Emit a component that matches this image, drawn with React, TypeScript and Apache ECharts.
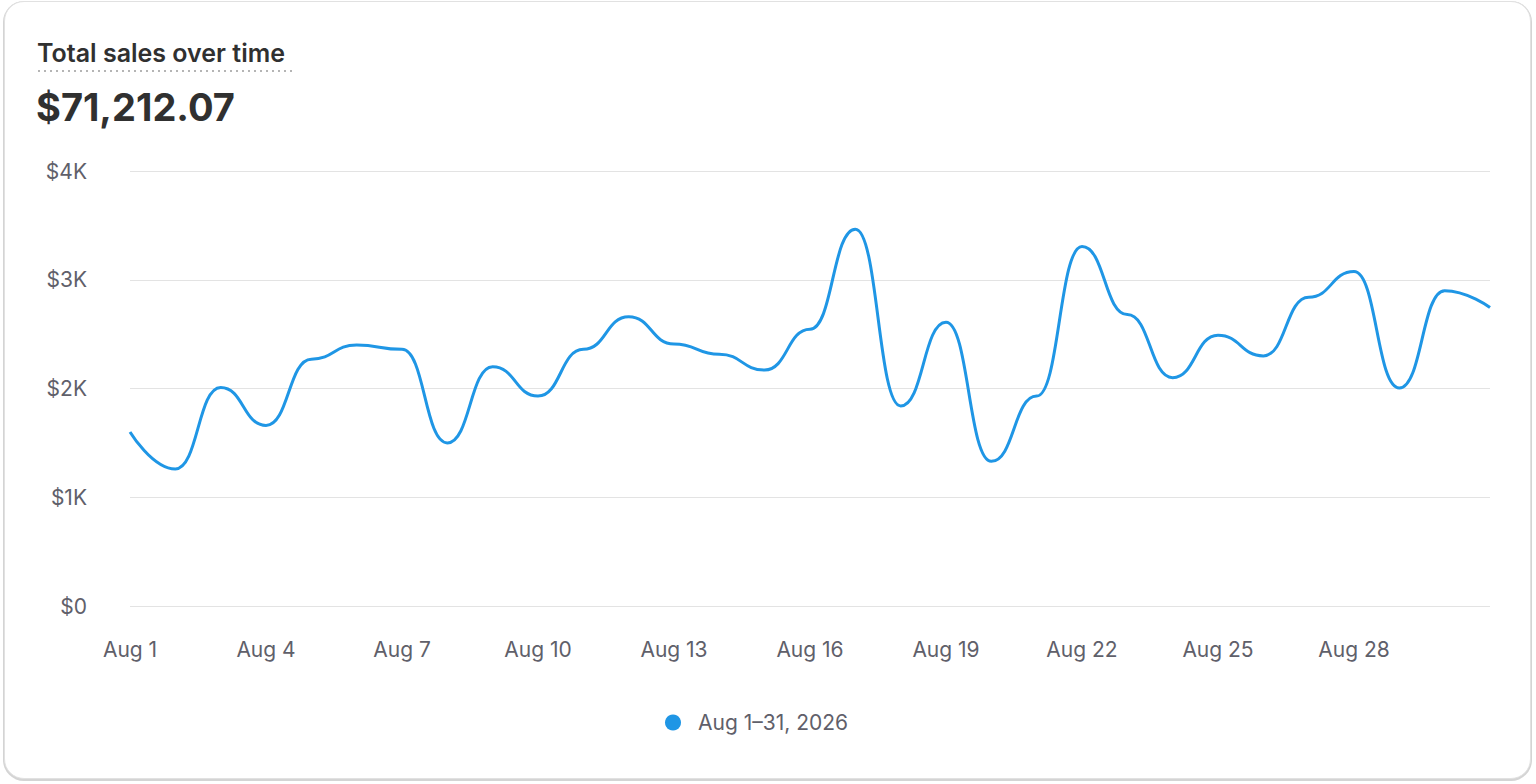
import React, { useEffect, useRef } from "react";
import * as echarts from "echarts";

const days = [
  "Aug 1", "Aug 2", "Aug 3", "Aug 4", "Aug 5", "Aug 6", "Aug 7", "Aug 8",
  "Aug 9", "Aug 10", "Aug 11", "Aug 12", "Aug 13", "Aug 14", "Aug 15", "Aug 16",
  "Aug 17", "Aug 18", "Aug 19", "Aug 20", "Aug 21", "Aug 22", "Aug 23", "Aug 24",
  "Aug 25", "Aug 26", "Aug 27", "Aug 28", "Aug 29", "Aug 30", "Aug 31",
];

const sales = [
  1600, 1260, 2010, 1660, 2270, 2400, 2360, 1500, 2200, 1930, 2360, 2660,
  2410, 2315, 2170, 2545, 3465, 1840, 2610, 1330, 1930, 3305, 2680, 2100,
  2490, 2300, 2840, 3075, 2005, 2900, 2745,
];

const seriesName = "Aug 1–31, 2026";
const title = "Total sales over time";
const total = "$71,212.07";

const FONT = "Inter, 'Noto Sans', sans-serif";
const LABEL = "#60606a";

const App = () => {
  const chartRef = useRef<HTMLDivElement>(null);

  useEffect(() => {
    if (!chartRef.current) return;
    const chart = echarts.init(chartRef.current, null, { renderer: "svg" });

    const option: echarts.EChartsOption = {
      animation: false,
      textStyle: { fontFamily: FONT },
      grid: { left: 130, right: 46, top: 171, bottom: 178 },
      graphic: [
        {
          type: "text",
          x: 37,
          y: 53,
          style: {
            text: title,
            font: `600 25px ${FONT}`,
            fill: "#303030",
            verticalAlign: "middle",
          },
        },
        {
          type: "line",
          shape: { x1: 38, y1: 71, x2: 294, y2: 71 },
          style: { stroke: "#b5b5b5", lineWidth: 2, lineDash: [2, 4] },
        },
        {
          type: "text",
          x: 36,
          y: 107,
          style: {
            text: total,
            font: `700 38px ${FONT}`,
            fill: "#303030",
            verticalAlign: "middle",
          },
        },
      ],
      legend: {
        bottom: 46,
        left: 660,
        icon: "circle",
        itemWidth: 16,
        itemHeight: 16,
        itemGap: 20,
        textStyle: { color: LABEL, fontSize: 21, fontFamily: FONT, padding: [0, 0, 0, 12] },
        data: [seriesName],
      },
      xAxis: {
        type: "category",
        data: days,
        boundaryGap: false,
        axisLine: { show: false },
        axisTick: { show: false },
        axisLabel: {
          interval: (index: number) => index % 3 === 0 && index < days.length - 1,
          color: LABEL,
          fontSize: 21,
          margin: 33,
        },
      },
      yAxis: {
        type: "value",
        min: 0,
        max: 4000,
        interval: 1000,
        axisLine: { show: false },
        axisTick: { show: false },
        axisLabel: {
          color: LABEL,
          fontSize: 21,
          margin: 43,
          formatter: (v: number) => (v === 0 ? "$0" : `$${v / 1000}K`),
        },
        splitLine: { lineStyle: { color: "#e3e3e3", width: 1 } },
      },
      series: [
        {
          name: seriesName,
          type: "line",
          data: sales,
          smooth: 0.5,
          smoothMonotone: "x",
          symbol: "none",
          itemStyle: { color: "#1f96e5" },
          lineStyle: { color: "#1f96e5", width: 3 },
        },
      ],
    };

    chart.setOption(option);
    const handleResize = () => chart.resize();
    window.addEventListener("resize", handleResize);
    return () => {
      window.removeEventListener("resize", handleResize);
      chart.dispose();
    };
  }, []);

  return (
    <div style={{ position: "fixed", left: 0, top: 0, width: 1536, height: 784, background: "#ffffff" }}>
      <div
        style={{
          position: "absolute",
          left: 4,
          top: 1,
          width: 1525,
          height: 776,
          border: "1px solid #e1e1e1",
          borderRadius: 20,
          boxShadow: "0 1px 0 1px #d4d4d4",
          background: "#ffffff",
        }}
      />
      <div ref={chartRef} style={{ position: "absolute", left: 0, top: 0, width: 1536, height: 784 }} />
    </div>
  );
};

export default App;
